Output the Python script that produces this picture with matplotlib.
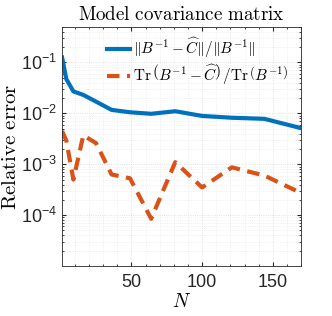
import matplotlib
matplotlib.use("Agg")
import matplotlib.pyplot as plt
import numpy as np
from matplotlib.ticker import MultipleLocator, LogLocator, NullFormatter

# sample sizes N (perfect squares) and the two relative errors
N = [1, 4, 9, 16, 25, 36, 49, 64, 81, 100, 121, 144, 169]
err_norm = [0.125, 0.047, 0.027, 0.023, 0.017, 0.0117, 0.0105, 0.0098, 0.011,
            0.0089, 0.0082, 0.0078, 0.0052]
err_trace = [0.0045, 0.0029, 0.0005, 0.0037, 0.0026, 0.00063, 0.00053, 0.000085,
             0.0011, 0.00035, 0.00087, 0.0006, 0.00028]

xticks = [50, 100, 150]
yticks = [1e-4, 1e-3, 1e-2, 1e-1]
ytick_labels = [r'$\mathregular{10^{-4}}$', r'$\mathregular{10^{-3}}$',
                r'$\mathregular{10^{-2}}$', r'$\mathregular{10^{-1}}$']

plt.rcParams['font.family'] = ['Liberation Sans', 'DejaVu Sans']
plt.rcParams['mathtext.fontset'] = 'cm'

fig = plt.figure(figsize=(3.32, 3.16), dpi=100)
ax = fig.add_axes([0.187, 0.158, 0.72, 0.757])

blue = '#0072BD'
orange = '#D95319'

ax.semilogy(N, err_norm, color=blue, lw=3,
            label=r'$\|B^{-1}-\widehat{C}\|/\|B^{-1}\|$')
ax.semilogy(N, err_trace, color=orange, lw=3, dashes=(3.0, 1.8),
            label=r'$\mathrm{Tr}\,\left(B^{-1}-\widehat{C}\right)\,/\mathrm{Tr}\,\left(B^{-1}\right)$')

ax.set_xlim(1, 170)
ax.set_ylim(1e-5, 0.5)
ax.set_xticks(xticks)
ax.xaxis.set_minor_locator(MultipleLocator(10))
ax.set_yticks(yticks)
ax.set_yticklabels(ytick_labels)
ax.yaxis.set_minor_locator(LogLocator(base=10, subs=np.arange(2, 10)))
ax.yaxis.set_minor_formatter(NullFormatter())

ax.tick_params(which='both', direction='in', top=True, right=True,
               colors='#262626', labelsize=13)
ax.tick_params(axis='x', pad=6)
ax.tick_params(which='major', length=3)
ax.tick_params(which='minor', length=1.5)
for s in ax.spines.values():
    s.set_color('#262626')
    s.set_linewidth(0.6)

ax.grid(True, which='major', color='#d9d9d9', lw=0.6, ls=':')
ax.grid(True, which='minor', color='#e6e6e6', lw=0.5, ls=':')

ax.set_title(r'$\mathrm{Model\ covariance\ matrix}$', fontsize=13.7, pad=5)
ax.set_xlabel(r'$N$', fontsize=14, labelpad=1)
ax.set_ylabel(r'$\mathrm{Relative\ error}$', fontsize=15, labelpad=1)

leg = ax.legend(loc='upper right', bbox_to_anchor=(0.96, 0.975), frameon=False,
                fontsize=11, handlelength=1.5, handletextpad=0.2,
                borderaxespad=0, borderpad=0.2, labelspacing=0.15)

fig.savefig('out.png', dpi=100)
